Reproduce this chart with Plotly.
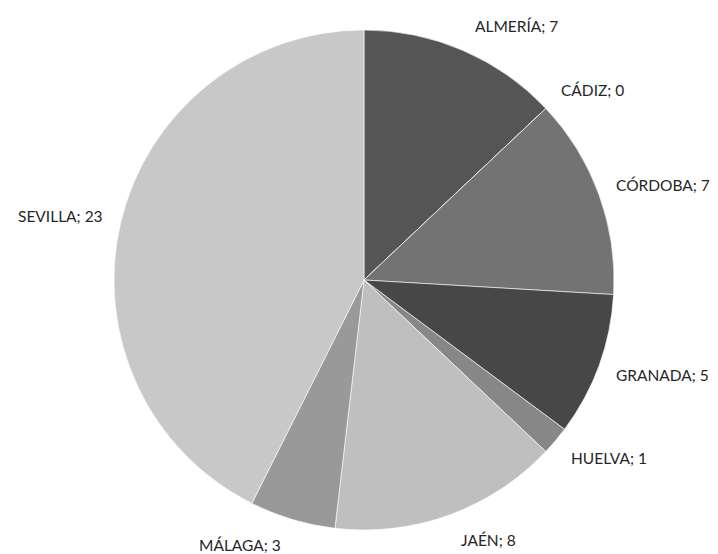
import math
import plotly.graph_objects as go

labels = ["ALMERÍA", "CÁDIZ", "CÓRDOBA", "GRANADA", "HUELVA", "JAÉN", "MÁLAGA", "SEVILLA"]
values = [7, 0, 7, 5, 1, 8, 3, 23]
colors = ["#555555", "#6a6a6a", "#737373", "#474747", "#878787", "#bfbfbf", "#999999", "#c8c8c8"]

W, H = 718, 554
page_offset = 8  # default body margin of the html page
cx, cy, r = 364 - page_offset, 280 - page_offset, 250
pad_x, gap_x, pad_y = 10, 6, 27

fig = go.Figure(go.Pie(
    labels=labels,
    values=values,
    sort=False,
    direction="clockwise",
    rotation=0,
    marker=dict(colors=colors, line=dict(color="#ffffff", width=0.6)),
    textinfo="none",
    domain=dict(x=[(cx - r) / W, (cx + r) / W], y=[(H - cy - r) / H, (H - cy + r) / H]),
    showlegend=False,
    hoverinfo="label+value",
))

total = sum(values)
cum = 0
for lab, v in zip(labels, values):
    mid = (cum + v / 2) / total * 2 * math.pi
    cum += v
    sx, sy = math.sin(mid), -math.cos(mid)
    side = 1 if sx >= 0 else -1
    px = cx + (r + pad_x) * sx + gap_x * side
    py = cy + (r + pad_y) * sy
    fig.add_annotation(
        x=px / W, y=1 - py / H, xref="paper", yref="paper",
        text=f"{lab}; {v}", showarrow=False,
        xanchor="left" if side > 0 else "right", yanchor="middle",
        font=dict(family="Lato, Carlito, sans-serif", size=15.5, color="#262626"),
    )

fig.update_layout(
    width=W, height=H,
    margin=dict(l=0, r=0, t=0, b=0),
    paper_bgcolor="white",
    plot_bgcolor="white",
)

fig.write_html("out.html")
